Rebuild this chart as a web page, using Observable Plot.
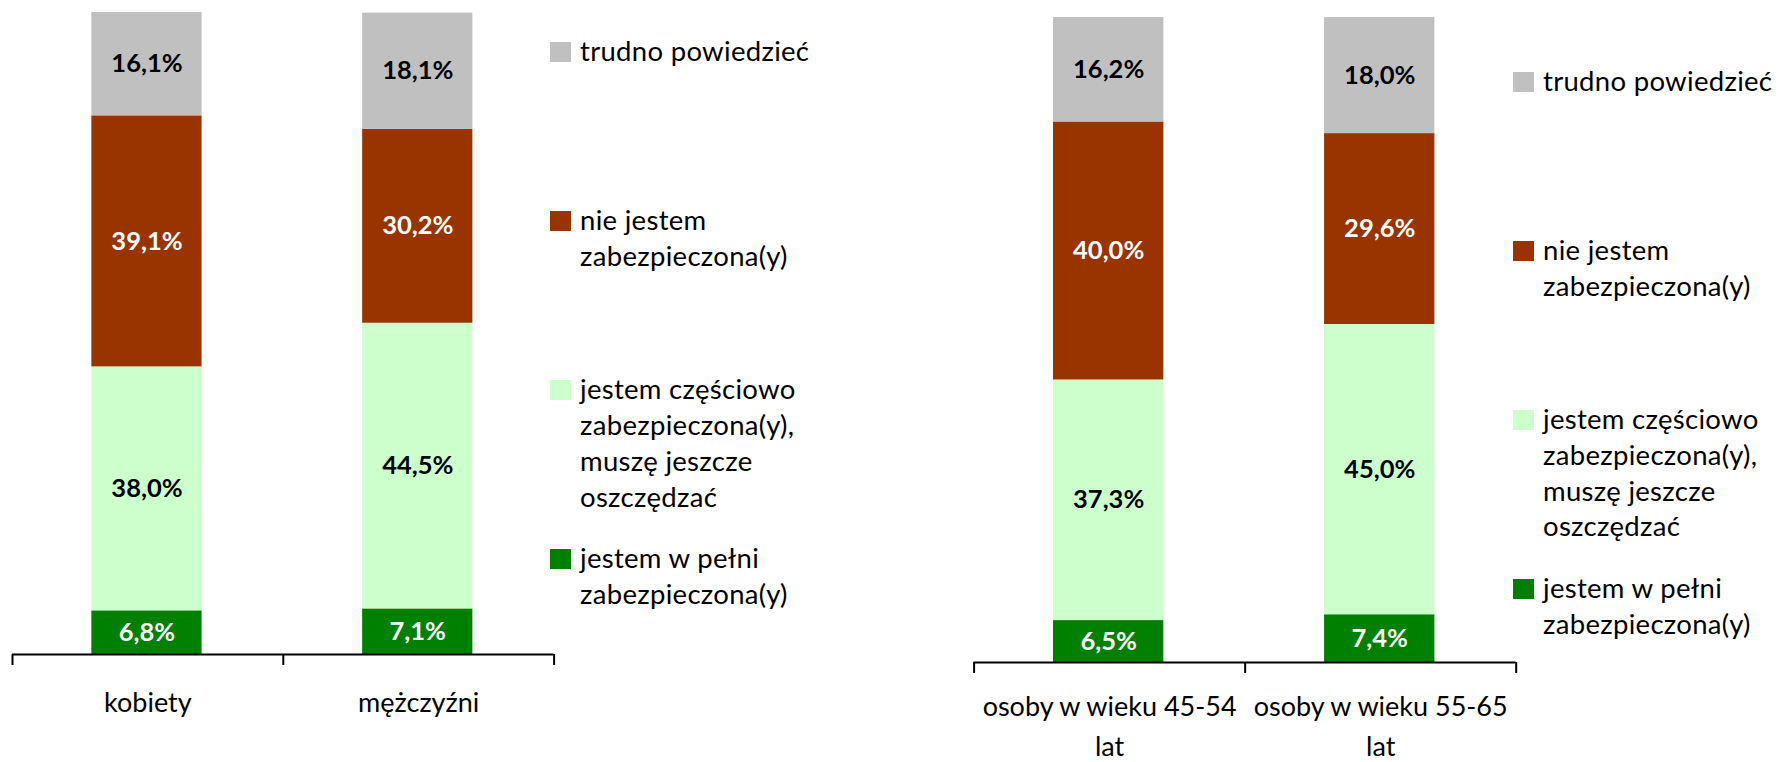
<!DOCTYPE html>
<html><head><meta charset="utf-8">
<script src="https://cdn.jsdelivr.net/npm/d3@7"></script>
<script src="https://cdn.jsdelivr.net/npm/@observablehq/plot@0.6"></script>
<style>
html,body{margin:0;padding:0;background:#fff;width:1779px;height:762px;overflow:hidden;}
#root{position:relative;width:1779px;height:762px;}
.chart{position:absolute;top:0;}
.legend{position:absolute;font-family:Lato,sans-serif;font-size:27.5px;letter-spacing:0.3px;line-height:35.8px;color:#000;}
.item{position:absolute;left:0;white-space:pre;}
.sw{position:absolute;left:0;top:9.3px;width:21px;height:20px;}
.lt{position:absolute;left:30px;top:0;}
</style></head><body><div id="root"></div>
<script>
// Series (bottom to top of each stack)
const series = ["jestem w pełni\nzabezpieczona(y)", "jestem częściowo\nzabezpieczona(y),\nmuszę jeszcze\noszczędzać", "nie jestem\nzabezpieczona(y)", "trudno powiedzieć"];
const seriesColors = ["#008000", "#CCFFCC", "#993300", "#C0C0C0"];
const labelColors = ["#ffffff", "#000000", "#ffffff", "#000000"];

// Chart 1: by sex
const sexCategories = ["kobiety", "mężczyźni"];
const sexFull = [6.8, 7.1];
const sexPartial = [38.0, 44.5];
const sexNot = [39.1, 30.2];
const sexHard = [16.1, 18.1];

// Chart 2: by age
const ageCategories = ["osoby w wieku 45-54\nlat", "osoby w wieku 55-65\nlat"];
const ageFull = [6.5, 7.4];
const agePartial = [37.3, 45.0];
const ageNot = [40.0, 29.6];
const ageHard = [16.2, 18.0];

const fmt = v => v.toFixed(1).replace(".", ",") + "%";

function chart(cats, values, o) {
  const rows = [];
  cats.forEach((c, i) => {
    let acc = 0;
    values.forEach((vals, s) => {
      const v = vals[i];
      rows.push({i, s, value: v, y1: acc, y2: acc + v});
      acc += v;
    });
  });
  return Plot.plot({
    width: o.width, height: o.height,
    marginLeft: o.marginLeft, marginRight: o.marginRight,
    marginTop: o.marginTop, marginBottom: o.marginBottom,
    x: {domain: [0, cats.length]},
    y: {domain: [0, 100], axis: null},
    color: {type: "identity"},
    style: {background: "transparent", overflow: "visible"},
    marks: [
      Plot.rect(rows, {x1: d => d.i + 0.293, x2: d => d.i + 0.7, y1: "y1", y2: "y2", fill: d => seriesColors[d.s]}),
      Plot.text(rows, {x: d => d.i + 0.4965, y: d => (d.y1 + d.y2) / 2, text: d => fmt(d.value),
        fill: d => labelColors[d.s], fontFamily: "Lato", fontWeight: "bold", fontSize: 25.5}),
      Plot.ruleY([0], {stroke: "#000", strokeWidth: 2}),
      Plot.axisX({ticks: d3.range(cats.length + 1), tickSize: 11, tickFormat: () => "", stroke: "#000", strokeWidth: 2}),
      Plot.text(cats, {x: (d, i) => i + 0.5, frameAnchor: "bottom", lineAnchor: "top", dy: o.labelDy,
        text: d => d, fontFamily: "Lato", fontSize: 27, lineHeight: 1.48, fill: "#000"})
    ]
  });
}

function legend(left, top) {
  const div = document.createElement("div");
  div.className = "legend";
  div.style.left = left + "px";
  div.style.top = top + "px";
  const order = d3.range(series.length).reverse();
  order.forEach((s, k) => {
    const it = document.createElement("div");
    it.className = "item";
    it.style.top = (k * 169) + "px";
    const sw = document.createElement("div");
    sw.className = "sw";
    sw.style.background = seriesColors[s];
    const t = document.createElement("div");
    t.className = "lt";
    t.textContent = series[s];
    it.appendChild(sw); it.appendChild(t);
    div.appendChild(it);
  });
  return div;
}

const root = document.getElementById("root");
const c1 = chart(sexCategories, [sexFull, sexPartial, sexNot, sexHard],
  {width: 570, height: 762, marginLeft: 12, marginRight: 16.4, marginTop: 12, marginBottom: 108, labelDy: 29});
c1.classList.add("chart"); c1.style.left = "0px";
root.appendChild(c1);
root.appendChild(legend(550, 33.2));

const c2 = chart(ageCategories, [ageFull, agePartial, ageNot, ageHard],
  {width: 580, height: 762, marginLeft: 23.6, marginRight: 14.3, marginTop: 17, marginBottom: 100, labelDy: 25});
c2.classList.add("chart"); c2.style.left = "950px";
root.appendChild(c2);
root.appendChild(legend(1513, 63));
</script>
</body></html>
